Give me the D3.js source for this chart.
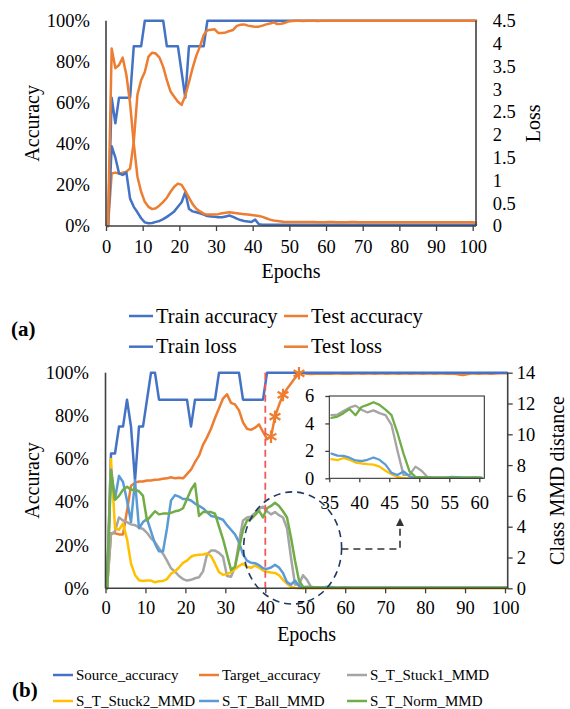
<!DOCTYPE html>
<html>
<head>
<meta charset="utf-8">
<script src="https://cdn.jsdelivr.net/npm/d3@7/dist/d3.min.js"></script>
<style>
html,body{margin:0;padding:0;background:#fff;}
svg{display:block;}
text{font-family:"Liberation Serif","Times New Roman",Times,serif;fill:#000;}
</style>
</head>
<body>
<svg id="chart" width="570" height="709"></svg>
<script>
// ---------------- DATA (panel a) ----------------
const xTicks = [0,10,20,30,40,50,60,70,80,90,100];
const accTicks = [0,20,40,60,80,100];
const lossTicks = [0,0.5,1,1.5,2,2.5,3,3.5,4,4.5];
const legendA = ["Train accuracy","Test accuracy","Train loss","Test loss"];

const trainAccuracy = [0,62.5,50,62.5,62.5,62.5,62.5,87.5,87.5,87.5,
100,100,100,100,100,100,87.5,87.5,87.5,87.5,
75,62.5,87.5,87.5,87.5,87.5,87.5,100,100,100,
100,100,100,100,100,100,100,100,100,100,
100,100,100,100,100,100,100,100,100,100,
100,100,100,100,100,100,100,100,100,100,
100,100,100,100,100,100,100,100,100,100,
100,100,100,100,100,100,100,100,100,100,
100,100,100,100,100,100,100,100,100,100,
100,100,100,100,100,100,100,100,100,100,
100];
const testAccuracy = [0,25.6,26,25.5,26,26.5,28,41,64,71,
75,82.5,84.4,84,82,77.5,71,65.5,63,60.5,
59,63.5,70,77,83,87.5,93,95.3,95.6,95.8,
94,94,94.3,95,95.5,97.5,98,98.2,97.6,97.3,
97,97.1,97.6,98.2,98.6,99.2,98.4,98.5,98.9,99.6,
99.8,100,100,99.9,100,100,100,99.9,100,100,
100,100,100,100,100,100,100,100,100,100,
100,100,100,100,100,100,100,100,100,100,
100,100,100,100,100,100,100,100,100,100,
100,100,100,100,100,100,100,100,100,100,
100];
const trainLoss = [0,1.75,1.5,1.15,1.12,1.17,0.6,0.42,0.3,0.17,
0.08,0.06,0.065,0.09,0.11,0.15,0.2,0.26,0.32,0.42,
0.52,0.74,0.38,0.32,0.3,0.28,0.25,0.22,0.21,0.2,
0.19,0.19,0.21,0.23,0.2,0.16,0.13,0.11,0.1,0.09,
0.14,0.04,0.03,0.03,0.03,0.03,0.03,0.03,0.03,0.03,
0.03,0.03,0.03,0.03,0.03,0.03,0.03,0.03,0.03,0.03,
0.03,0.03,0.03,0.03,0.03,0.03,0.03,0.03,0.03,0.03,
0.03,0.03,0.03,0.03,0.03,0.03,0.03,0.03,0.03,0.03,
0.03,0.03,0.03,0.03,0.03,0.03,0.03,0.03,0.03,0.03,
0.03,0.03,0.03,0.03,0.03,0.03,0.03,0.03,0.03,0.03,
0.03];
const testLoss = [0,3.89,3.46,3.53,3.69,3.31,2.69,1.81,1.08,0.75,
0.53,0.42,0.37,0.39,0.45,0.53,0.62,0.75,0.86,0.93,
0.9,0.77,0.62,0.48,0.38,0.32,0.27,0.25,0.25,0.25,
0.26,0.28,0.29,0.3,0.29,0.28,0.27,0.26,0.25,0.24,
0.23,0.22,0.2,0.17,0.14,0.12,0.11,0.1,0.09,0.09,
0.09,0.09,0.09,0.09,0.09,0.09,0.09,0.08,0.08,0.08,
0.09,0.09,0.08,0.08,0.08,0.08,0.09,0.09,0.08,0.08,
0.08,0.08,0.08,0.08,0.08,0.08,0.08,0.08,0.08,0.08,
0.08,0.08,0.08,0.08,0.08,0.08,0.08,0.08,0.08,0.08,
0.08,0.08,0.08,0.08,0.08,0.08,0.08,0.08,0.08,0.08,
0.07];

// ---------------- DATA (panel b) ----------------
const mmdTicks = [0,2,4,6,8,10,12,14];
const insetXTicks = [35,40,45,50,55,60];
const insetYTicks = [0,2,4,6];
const legendB = ["Source_accuracy","Target_accuracy","S_T_Stuck1_MMD","S_T_Stuck2_MMD","S_T_Ball_MMD","S_T_Norm_MMD"];
const starEpochs = [41,42,44,48];
const splitEpoch = 40;

const sourceAccuracy = [0,62.5,62.5,75,75,87.5,75,50,75,75,
87.5,100,100,87.5,87.5,87.5,87.5,87.5,87.5,87.5,
87.5,75,87.5,87.5,87.5,87.5,87.5,87.5,100,100,
100,100,100,100,87.5,87.5,87.5,87.5,87.5,87.5,
100,100,100,100,100,100,100,100,100,100,
100,100,100,100,100,100,100,100,100,100,
100,100,100,100,100,100,100,100,100,100,
100,100,100,100,100,100,100,100,100,100,
100,100,100,100,100,100,100,100,100,100,
100,100,100,100,100,100,100,100,100,100,
100];
const targetAccuracy = [0,25.5,25.5,25,25,36,47.5,49,49.5,49.5,
50,50,50.3,50.5,50.8,51,51.5,51,51.3,51,
53,55,58.5,61.5,66.5,70,74,79,83.5,88,
90,86,85.3,82.5,77,74,73.5,74.5,76,72.5,
69.3,70.3,79.6,85,89.7,92.5,95,97.5,99.7,99.8,
99.5,99.4,99.5,99.6,99.5,99.6,99.5,99.6,99.6,99.5,
99.6,99.5,99.6,99.6,99.5,99.6,99.6,99.5,99.6,99.6,
99.5,99.6,99.6,99.5,99.6,99.6,99.5,99.6,99.6,99.5,
99.6,99.6,99.5,99.6,99.6,99.5,99.6,99.5,99.2,98.9,
99.3,99.6,99.6,99.5,99.6,99.6,99.5,99.6,99.7,99.8,
99.8];
const stuck1MMD = [0,3.5,3.7,4.6,4.4,4.3,4.15,4.1,3.95,3.85,
3.6,3.25,3.0,2.6,2.25,1.8,1.3,1.08,0.8,0.6,
0.5,0.55,0.65,0.72,1.1,2.2,2.45,2.45,2.3,2.05,
0.8,0.75,1.4,3.0,4.4,4.6,4.65,4.9,5.15,5.3,
5.0,4.8,4.95,4.75,4.6,3.9,2.0,0.25,0.25,0.85,
0.55,0.1,0.05,0.05,0.05,0.05,0.05,0.04,0.04,0.04,
0.03,0.03,0.03,0.03,0.03,0.03,0.03,0.03,0.03,0.03,
0.03,0.03,0.03,0.03,0.03,0.03,0.03,0.03,0.03,0.03,
0.03,0.03,0.03,0.03,0.03,0.03,0.03,0.03,0.03,0.03,
0.03,0.03,0.03,0.03,0.03,0.03,0.03,0.03,0.03,0.03,
0.03];
const stuck2MMD = [0,8.4,3.9,3.8,4.2,3.2,1.6,0.87,0.52,0.48,
0.5,0.5,0.39,0.46,0.48,0.6,0.95,1.1,1.35,1.65,
1.8,2.05,2.15,2.18,2.2,2.26,2.1,1.6,1.05,0.88,
0.92,1.05,1.25,1.45,1.6,1.4,1.33,1.48,1.35,1.15,
1.08,1.03,1.0,0.85,0.55,0.3,0.1,0.02,0.01,0.01,
0.01,0.01,0.01,0.01,0.01,0.01,0.01,0.01,0.01,0.01,
0.01,0.01,0.01,0.01,0.01,0.01,0.01,0.01,0.01,0.01,
0.01,0.01,0.01,0.01,0.01,0.01,0.01,0.01,0.01,0.01,
0.01,0.01,0.01,0.01,0.01,0.01,0.01,0.01,0.01,0.01,
0.01,0.01,0.01,0.01,0.01,0.01,0.01,0.01,0.01,0.01,
0.01];
const ballMMD = [0,7.7,5.8,7.3,6.9,5.7,4.3,7.0,3.9,4.3,
4.5,3.7,2.9,2.4,2.4,3.9,5.7,6.05,5.95,5.8,
5.8,5.7,5.5,5.35,5.2,4.95,4.7,4.65,4.55,4.45,
4.1,3.8,3.5,3.0,2.2,1.8,1.66,1.63,1.5,1.3,
1.26,1.35,1.52,1.35,1.0,0.4,0.24,0.5,0.15,0.02,
0.08,0.08,0.05,0.05,0.05,0.1,0.08,0.05,0.04,0.06,
0.05,0.04,0.03,0.03,0.03,0.03,0.03,0.03,0.03,0.03,
0.03,0.03,0.03,0.03,0.03,0.03,0.03,0.03,0.03,0.03,
0.03,0.03,0.03,0.03,0.03,0.03,0.03,0.03,0.03,0.03,
0.03,0.03,0.03,0.03,0.03,0.03,0.03,0.03,0.03,0.03,
0.03];
const normMMD = [0,7.6,5.75,6.0,6.4,6.6,6.4,6.4,6.3,6.0,
4.4,4.7,5.0,4.8,4.85,4.85,4.9,5.0,5.05,5.2,
5.8,6.4,6.8,4.7,4.95,4.95,4.95,4.85,4.0,3.2,
2.2,1.2,1.4,2.6,3.8,4.4,4.5,4.75,5.05,4.6,
5.2,5.35,5.55,5.35,5.0,4.6,3.3,1.8,0.5,0.1,
0.08,0.06,0.05,0.05,0.05,0.04,0.04,0.04,0.04,0.04,
0.03,0.03,0.03,0.03,0.03,0.03,0.03,0.03,0.03,0.03,
0.03,0.03,0.03,0.03,0.03,0.03,0.03,0.03,0.03,0.03,
0.03,0.03,0.03,0.03,0.03,0.03,0.03,0.03,0.03,0.03,
0.03,0.03,0.03,0.03,0.03,0.03,0.03,0.03,0.03,0.03,
0.03];

// ---------------- DRAWING ----------------
const svg = d3.select("#chart");
svg.append("rect").attr("width",570).attr("height",709).attr("fill","#fff");
const AXIS = "#404040";
const C = {blue:"#4472c4", orange:"#ed7d31", gray:"#a5a5a5", yellow:"#ffc000", lblue:"#5b9bd5", green:"#70ad47"};
const TICKFONT = 18.5;

function drawLine(g, values, x, y, color, width, offset) {
  const off = offset || 0;
  g.append("path").datum(values.map((v,i)=>[i+off,v]))
    .attr("fill","none").attr("stroke",color).attr("stroke-width",width||2.5)
    .attr("stroke-linejoin","round").attr("stroke-linecap","round")
    .attr("d", d3.line().x(d=>x(d[0])).y(d=>y(d[1])));
}
function styleAxis(g, size) {
  g.attr("font-family",'"Liberation Serif","Times New Roman",serif').attr("font-size",size).attr("color","#000");
  g.selectAll(".tick line").attr("stroke",AXIS).attr("stroke-width",1.3);
  g.select(".domain").remove();
}
function frameLine(g,x1,y1,x2,y2,w){
  g.append("line").attr("x1",x1).attr("y1",y1).attr("x2",x2).attr("y2",y2)
   .attr("stroke",AXIS).attr("stroke-width",w||1.6);
}

// ===== Panel (a) =====
const tX = d3.scaleLinear().domain([0,100]).range([108,476]);
const tXt = d3.scaleLinear().domain([0,100]).range([106,472.7]);
const tYa = d3.scaleLinear().domain([0,100]).range([226,20.7]);
const tYl = d3.scaleLinear().domain([0,4.5]).range([226,20.7]);
const gA = svg.append("g");

drawLine(gA, trainAccuracy, tX, tYa, C.blue);
drawLine(gA, testAccuracy, tX, tYa, C.orange);
drawLine(gA, trainLoss, tX, tYl, C.blue);
drawLine(gA, testLoss, tX, tYl, C.orange);

frameLine(gA, tXt(0), tYa(100), tXt(0), tYa(0));
frameLine(gA, tX(100), tYa(100), tX(100), tYa(0));
frameLine(gA, tXt(0), tYa(0), tX(100), tYa(0));

gA.append("g").attr("transform",`translate(0,${tYa(0)})`)
  .call(d3.axisBottom(tXt).tickValues(xTicks).tickSize(5).tickPadding(9).tickFormat(d=>d))
  .call(g=>styleAxis(g,TICKFONT));
gA.append("g").attr("transform",`translate(${tXt(0)},0)`)
  .call(d3.axisLeft(tYa).tickValues(accTicks).tickSize(0).tickPadding(16).tickFormat(d=>d+"%"))
  .call(g=>styleAxis(g,TICKFONT));
gA.append("g").attr("transform",`translate(${tX(100)},0)`)
  .call(d3.axisRight(tYl).tickValues(lossTicks).tickSize(0).tickPadding(16.7).tickFormat(d=>d))
  .call(g=>styleAxis(g,TICKFONT));

gA.append("text").attr("transform",`translate(33,${(tYa(0)+tYa(100))/2}) rotate(-90)`)
  .attr("text-anchor","middle").attr("dy","0.32em").attr("font-size",20).text("Accuracy");
gA.append("text").attr("transform",`translate(534,${(tYa(0)+tYa(100))/2}) rotate(-90)`)
  .attr("text-anchor","middle").attr("dy","0.32em").attr("font-size",20).text("Loss");
gA.append("text").attr("x",(tXt(0)+tX(100))/2).attr("y",278)
  .attr("text-anchor","middle").attr("font-size",20).text("Epochs");

// legend a
const legA = [[legendA[0],C.blue,129,316],[legendA[1],C.orange,284,316],[legendA[2],C.blue,129,346.7],[legendA[3],C.orange,284,346.7]];
legA.forEach(([t,c,x,y])=>{
  gA.append("line").attr("x1",x).attr("x2",x+24).attr("y1",y).attr("y2",y).attr("stroke",c).attr("stroke-width",2.5);
  gA.append("text").attr("x",x+27).attr("y",y).attr("dy","0.32em").attr("font-size",20.5).text(t);
});
gA.append("text").attr("x",11).attr("y",336).attr("font-size",21).attr("font-weight","bold").text("(a)");

// ===== Panel (b) =====
const bX = d3.scaleLinear().domain([0,100]).range([107,507]);
const bXt = d3.scaleLinear().domain([0,100]).range([105.5,505]);
const bYa = d3.scaleLinear().domain([0,100]).range([588.3,372.7]);
const bYm = d3.scaleLinear().domain([0,14]).range([588.3,372.7]);
const gB = svg.append("g");

drawLine(gB, targetAccuracy, bX, bYa, C.orange);
drawLine(gB, sourceAccuracy, bX, bYa, C.blue);
drawLine(gB, stuck1MMD, bX, bYm, C.gray);
drawLine(gB, stuck2MMD, bX, bYm, C.yellow);
drawLine(gB, ballMMD, bX, bYm, C.lblue);
drawLine(gB, normMMD, bX, bYm, C.green);

// star markers on target accuracy
gB.selectAll(".star").data(starEpochs).enter().append("path")
  .attr("d", d3.symbol().type(d3.symbolAsterisk).size(110))
  .attr("transform", e=>`translate(${bX(e)},${bYa(targetAccuracy[e])})`)
  .attr("fill","none").attr("stroke",C.orange).attr("stroke-width",2.2);

// split line
gB.append("line").attr("x1",bXt(splitEpoch)).attr("x2",bXt(splitEpoch))
  .attr("y1",bYa(100)).attr("y2",bYa(0))
  .attr("stroke","#f05a5a").attr("stroke-width",1.8).attr("stroke-dasharray","7,4");

frameLine(gB, bXt(0), bYa(100), bXt(0), bYa(0));
frameLine(gB, 507.7, bYa(100), 507.7, bYa(0));
frameLine(gB, bXt(0), bYa(0), 507.7, bYa(0));

gB.append("g").attr("transform",`translate(0,${bYa(0)})`)
  .call(d3.axisBottom(bXt).tickValues(xTicks).tickSize(5).tickPadding(8).tickFormat(d=>d))
  .call(g=>styleAxis(g,TICKFONT));
gB.append("g").attr("transform",`translate(${bXt(0)},0)`)
  .call(d3.axisLeft(bYa).tickValues(accTicks).tickSize(0).tickPadding(16.5).tickFormat(d=>d+"%"))
  .call(g=>styleAxis(g,TICKFONT));
gB.append("g").attr("transform",`translate(507.7,0)`)
  .call(d3.axisRight(bYm).tickValues(mmdTicks).tickSize(5).tickPadding(4).tickFormat(d=>d))
  .call(g=>styleAxis(g,TICKFONT));

gB.append("text").attr("transform",`translate(33,${(bYa(0)+bYa(100))/2}) rotate(-90)`)
  .attr("text-anchor","middle").attr("dy","0.32em").attr("font-size",20).text("Accuracy");
gB.append("text").attr("transform",`translate(558,${(bYa(0)+bYa(100))/2}) rotate(-90)`)
  .attr("text-anchor","middle").attr("dy","0.32em").attr("font-size",20).text("Class MMD distance");
gB.append("text").attr("x",(bXt(0)+507.7)/2).attr("y",641)
  .attr("text-anchor","middle").attr("font-size",20).text("Epochs");

// dashed ellipse + arrow (in data units)
const NAVY = "#1f3864";
gB.append("ellipse").attr("cx",bX(46.4)).attr("cy",bYm(2.62))
  .attr("rx",bX(46.4+12.25)-bX(46.4)).attr("ry",bYm(0)-bYm(3.64))
  .attr("fill","none").attr("stroke",NAVY).attr("stroke-width",1.6).attr("stroke-dasharray","7,5");
const defs = svg.append("defs");
defs.append("marker").attr("id","ah").attr("viewBox","0 0 10 10").attr("refX",5).attr("refY",5)
  .attr("markerWidth",5).attr("markerHeight",5).attr("orient","auto-start-reverse")
  .append("path").attr("d","M0,0L10,5L0,10z").attr("fill","#333");
const arrowPts = [[58.6,2.55],[73.25,2.55],[73.25,4.3]];
gB.append("path").datum(arrowPts)
  .attr("d", d3.line().x(d=>bX(d[0])).y(d=>bYm(d[1])))
  .attr("fill","none").attr("stroke","#333").attr("stroke-width",1.6).attr("stroke-dasharray","7,5")
  .attr("marker-end","url(#ah)");

// ===== Inset =====
const iX = d3.scaleLinear().domain([35,60]).range([331.5,481.5]);
const iXt = d3.scaleLinear().domain([35,60]).range([329.3,479.3]);
const iY = d3.scaleLinear().domain([0,6]).range([478.3,396]);
const gI = svg.append("g");
gI.append("rect").attr("x",iXt(35)).attr("y",iY(6)).attr("width",484.3-iXt(35)).attr("height",iY(0)-iY(6))
  .attr("fill","#fff");
defs.append("clipPath").attr("id","insetClip").append("rect")
  .attr("x",iXt(35)).attr("y",iY(6)).attr("width",484.3-iXt(35)).attr("height",iY(0)-iY(6));
const gIL = gI.append("g").attr("clip-path","url(#insetClip)");
drawLine(gIL, stuck1MMD.slice(35,61), iX, iY, C.gray, 2.3, 35);
drawLine(gIL, stuck2MMD.slice(35,61), iX, iY, C.yellow, 2.3, 35);
drawLine(gIL, ballMMD.slice(35,61), iX, iY, C.lblue, 2.3, 35);
drawLine(gIL, normMMD.slice(35,61), iX, iY, C.green, 2.3, 35);
gI.append("rect").attr("x",iXt(35)).attr("y",iY(6)).attr("width",484.3-iXt(35)).attr("height",iY(0)-iY(6))
  .attr("fill","none").attr("stroke","#222").attr("stroke-width",1);
gI.append("g").attr("transform",`translate(0,${iY(0)})`)
  .call(d3.axisBottom(iXt).tickValues(insetXTicks).tickSize(4).tickPadding(14).tickFormat(d=>d))
  .call(g=>styleAxis(g,TICKFONT));
gI.append("g").attr("transform",`translate(${iXt(35)},0)`)
  .call(d3.axisLeft(iY).tickValues(insetYTicks).tickSize(4).tickPadding(11).tickFormat(d=>d))
  .call(g=>styleAxis(g,TICKFONT));

// legend b
const legColorsB = [C.blue,C.orange,C.gray,C.yellow,C.lblue,C.green];
const colX = [53,199,347], rowY = [675,701];
legendB.forEach((t,i)=>{
  const x = colX[i%3], y = rowY[Math.floor(i/3)];
  svg.append("line").attr("x1",x).attr("x2",x+20).attr("y1",y).attr("y2",y).attr("stroke",legColorsB[i]).attr("stroke-width",2.5);
  svg.append("text").attr("x",x+23).attr("y",y).attr("dy","0.32em").attr("font-size",15).text(t);
});
svg.append("text").attr("x",12).attr("y",697).attr("font-size",21).attr("font-weight","bold").text("(b)");
</script>
</body>
</html>
